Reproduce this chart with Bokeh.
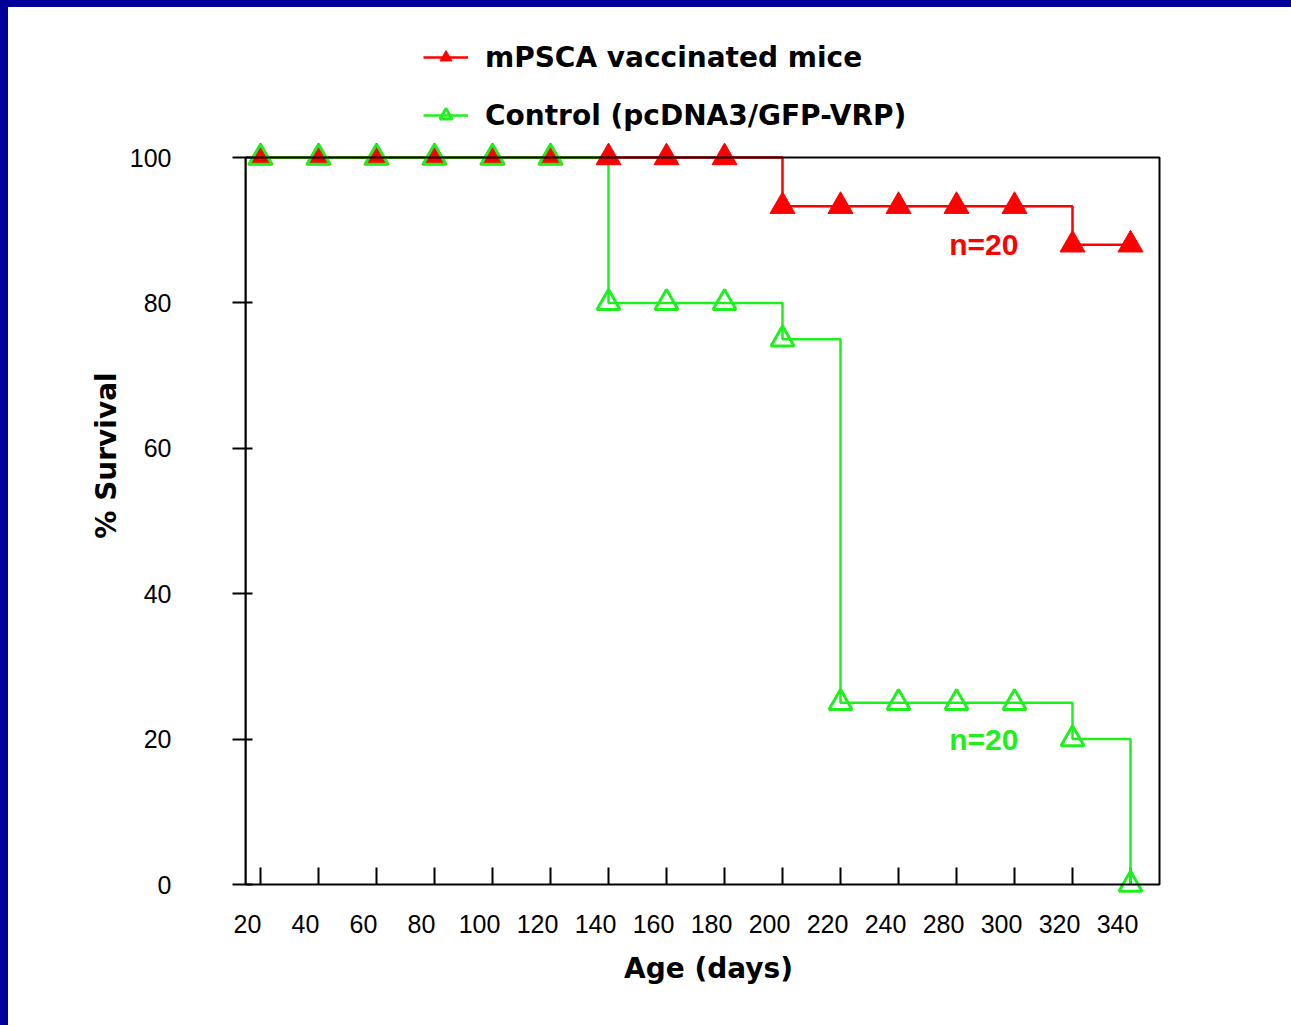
import math
from bokeh.plotting import figure
from bokeh.models import (Range1d, LinearAxis, FixedTicker, Legend, LegendItem,
                          GlobalInlineStyleSheet, BoxAnnotation)
from bokeh.core.properties import value
from bokeh.embed import file_html
from bokeh.resources import INLINE

# ---- data ----
age_labels = ["20", "40", "60", "80", "100", "120", "140", "160", "180",
              "200", "220", "240", "280", "300", "320", "340"]
vaccinated = [100, 100, 100, 100, 100, 100, 100, 100, 100,
              93.3, 93.3, 93.3, 93.3, 93.3, 88, 88]
control = [100, 100, 100, 100, 100, 100, 80, 80, 80,
           75, 25, 25, 25, 25, 20, 0]
y_ticks = [0, 20, 40, 60, 80, 100]
series_names = ["mPSCA vaccinated mice", "Control (pcDNA3/GFP-VRP)"]
n_label = "n=20"

idx = list(range(len(age_labels)))

RED = "#ff0000"
GREEN = "#1ef01e"
BLUE = "#000099"
W, H = 1280, 1012

# frame geometry (pixels): 58 px per category, 7.27 px per % point
PX_X, PX_Y = 58.0, 7.27
FL, FR, FT, FB = 237, 237 + 926, 7, 7 + 882      # frame edges in figure px
x0 = -15 / PX_X
x1 = x0 + 926 / PX_X
y0 = -12 / PX_Y
y1 = y0 + 882 / PX_Y
shift = 0.224

p = figure(width=W, height=H, output_backend="svg", toolbar_location=None,
           x_range=Range1d(x0, x1), y_range=Range1d(y0, y1),
           x_axis_location=None,
           min_border_left=FL, min_border_right=W - FR,
           min_border_top=FT, min_border_bottom=H - FB)
p.stylesheets = [GlobalInlineStyleSheet(css=(
    "html, body {margin:0; padding:0;} "
    f"body {{border-top: 7px solid {BLUE}; border-left: 8px solid {BLUE}; background: white;}}"))]
for g in p.grid:
    g.visible = False
p.outline_line_color = None
p.background_fill_color = "white"
p.border_fill_color = "white"

# y axis
ya = p.yaxis[0]
ya.bounds = (0, 100)
ya.ticker = FixedTicker(ticks=y_ticks)
ya.major_tick_out = 13
ya.major_tick_in = 7
ya.minor_tick_out = 0
ya.minor_tick_in = 0
ya.major_tick_line_width = 2
ya.major_tick_line_color = "black"
ya.axis_line_width = 2
ya.axis_line_color = "black"
ya.major_label_text_font = "Liberation Sans"
ya.major_label_text_font_size = "25px"
ya.major_label_text_color = "black"
ya.major_label_standoff = 61
ya.axis_label = "% Survival"
ya.axis_label_text_font = "DejaVu Sans"
ya.axis_label_text_font_style = "bold"
ya.axis_label_text_font_size = "28px"
ya.axis_label_text_color = "black"
ya.axis_label_standoff = 4

# x axis: labels only (shifted slightly left of the tick marks)
p.extra_x_ranges = {"lab": Range1d(x0 + shift, x1 + shift)}
xa = LinearAxis(x_range_name="lab", ticker=FixedTicker(ticks=idx),
                major_label_overrides={i: l for i, l in zip(idx, age_labels)},
                major_tick_in=0, major_tick_out=0, minor_tick_in=0, minor_tick_out=0,
                axis_line_color=None,
                major_label_text_font="Liberation Sans",
                major_label_text_font_size="25px",
                major_label_text_color="black",
                major_label_standoff=18,
                axis_label="Age (days)",
                axis_label_text_font="DejaVu Sans",
                axis_label_text_font_style="bold",
                axis_label_text_font_size="28px",
                axis_label_text_color="black",
                axis_label_standoff=16)
p.add_layout(xa, "below")

# plot box (x axis line at 0, top and right edges)
p.add_layout(BoxAnnotation(left=x0, right=15.5, bottom=0, top=100,
                           fill_color=None, line_color="black", line_alpha=1.0,
                           line_width=2))

# inward x tick marks
p.ray(x=idx, y=[0] * len(idx), length=17, length_units="screen",
      angle=math.pi / 2, line_color="black", line_width=2)

# survival curves
r_line = p.step(idx, vaccinated, mode="after", line_color=RED, line_width=2.5)
g_line = p.step(idx, control, mode="after", line_color=GREEN, line_width=2.5)
r_pts = p.scatter(idx, vaccinated, marker="triangle", size=25,
                  fill_color=RED, line_color=RED, line_width=1)
g_pts = p.scatter(idx, control, marker="triangle", size=23,
                  fill_alpha=0, line_color=GREEN, line_width=3)

# n labels
p.text(x=[12.47], y=[88.0], text=[n_label], text_color=RED,
       text_font=value("Liberation Sans"), text_font_style="bold",
       text_font_size="30px", text_align="center", text_baseline="middle")
p.text(x=[12.47], y=[19.9], text=[n_label], text_color=GREEN,
       text_font=value("Liberation Sans"), text_font_style="bold",
       text_font_size="30px", text_align="center", text_baseline="middle")

legend = Legend(items=[LegendItem(label=series_names[0], renderers=[r_line, r_pts]),
                       LegendItem(label=series_names[1], renderers=[g_line, g_pts])],
                location=(178, 764), glyph_width=45, glyph_height=30,
                label_height=34, spacing=24, label_standoff=17,
                padding=0, margin=0, border_line_alpha=0, background_fill_alpha=0,
                label_text_font="DejaVu Sans", label_text_font_style="bold",
                label_text_font_size="28px", label_text_color="black")
p.add_layout(legend)

open("out.html", "w").write(file_html(p, INLINE))
